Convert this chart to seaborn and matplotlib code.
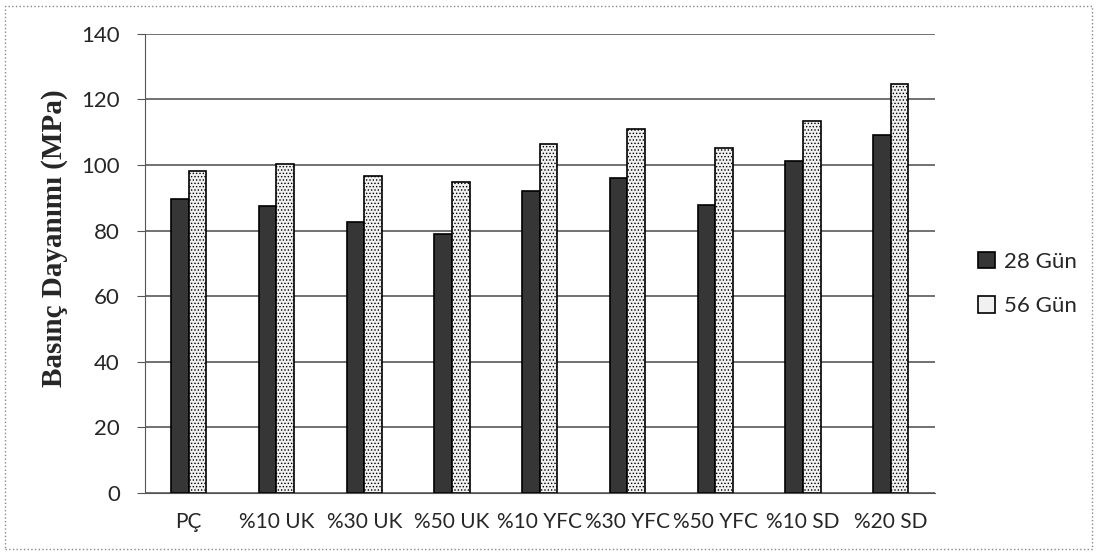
import numpy as np
import pandas as pd
import seaborn as sns
from matplotlib import pyplot as plt
from matplotlib.patches import Rectangle

categories = ['PÇ', '%10 UK', '%30 UK', '%50 UK', '%10 YFC', '%30 YFC', '%50 YFC', '%10 SD', '%20 SD']
gun_28 = [89.6, 87.4, 82.6, 79.0, 92.2, 95.9, 87.8, 101.3, 109.2]
gun_56 = [98.1, 100.2, 96.6, 94.8, 106.5, 111.0, 105.1, 113.5, 124.6]
series = ['28 Gün', '56 Gün']

# long format for seaborn
df = pd.DataFrame({
    'Karışım': categories * 2,
    'Değer': gun_28 + gun_56,
    'Seri': [series[0]] * len(categories) + [series[1]] * len(categories),
})

sns.set_style('white')
plt.rcParams['font.family'] = ['Lato', 'DejaVu Sans']
plt.rcParams['hatch.color'] = '#9a9a9a'
plt.rcParams['hatch.linewidth'] = 0.6

fig = plt.figure(figsize=(10.97, 5.55), dpi=100)
ax = fig.add_axes([0.132, 0.112, 0.720, 0.827])

palette = {series[0]: '#363636', series[1]: '#f1f1f1'}
sns.barplot(data=df, x='Karışım', y='Değer', hue='Seri', palette=palette,
            width=0.4, edgecolor='black', linewidth=1.2, saturation=1,
            ax=ax, legend=True)

# dotted texture on the bars
for cont, h in zip(ax.containers, ['', '.....']):
    for bar in cont:
        bar.set_hatch(h)

ax.set_ylim(0, 140)
ax.set_yticks(np.arange(0, 141, 20))
ax.yaxis.grid(True, color='#4a4a4a', linewidth=1.1)
ax.set_axisbelow(True)
ax.set_xlabel('')
ax.set_ylabel('Basınç Dayanımı (MPa)', family='Liberation Serif', fontweight='bold', fontsize=21)
ax.yaxis.set_label_coords(-0.097, 0.555)
ax.tick_params(axis='y', labelsize=16, length=6, pad=12, left=True, color='#555555')
ax.tick_params(axis='x', labelsize=15, length=0, pad=14)
for s in ['top', 'right']:
    ax.spines[s].set_visible(False)
for s in ['left', 'bottom']:
    ax.spines[s].set_color('#555555')

leg = ax.legend(loc='center left', bbox_to_anchor=(1.03, 0.455), frameon=False,
                fontsize=16, handlelength=0.75, handleheight=0.75, handletextpad=0.4, labelspacing=1.1)

# outer frame around the whole figure
fig.patches.append(Rectangle((0.005, 0.01), 0.99, 0.98, transform=fig.transFigure,
                             fill=False, edgecolor='#888888', linewidth=1.0, linestyle=':'))

plt.savefig('out.png', dpi=100)
